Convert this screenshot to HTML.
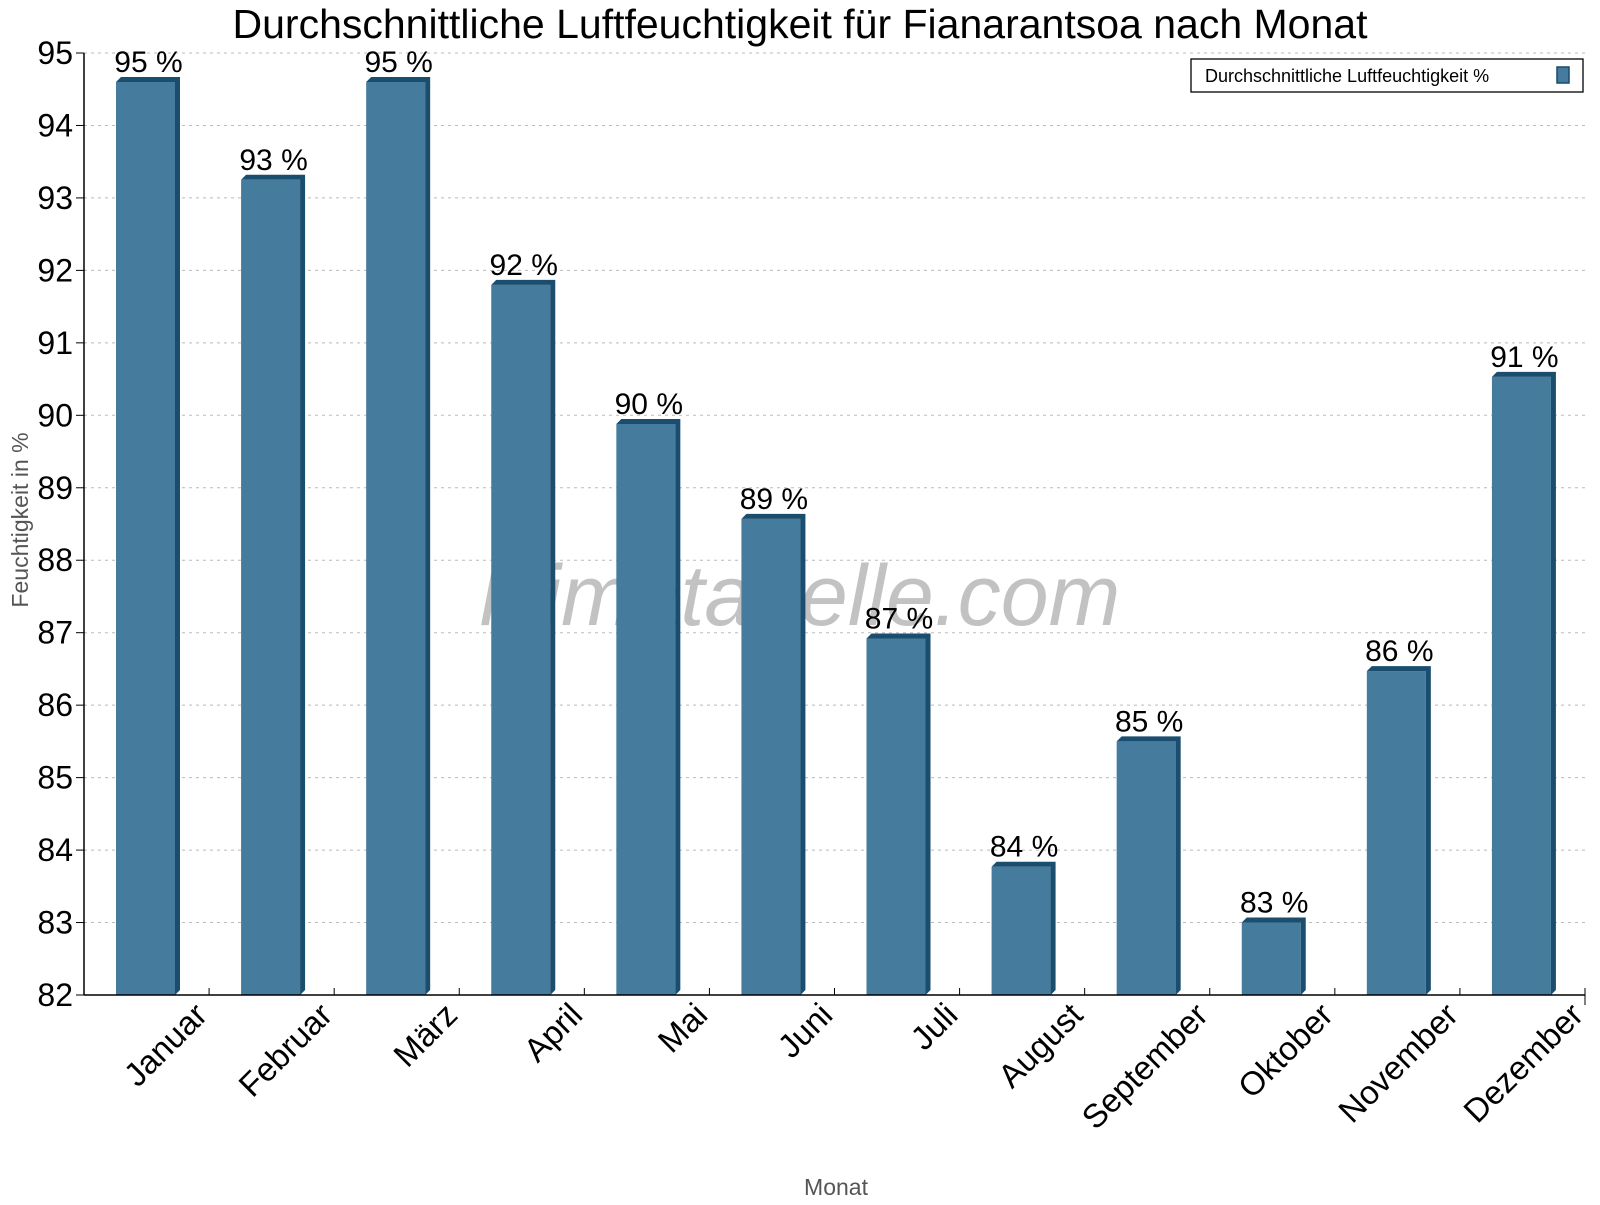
<!DOCTYPE html>
<html><head><meta charset="utf-8"><style>
body{margin:0;background:#fff}
svg text{font-family:"Liberation Sans",sans-serif}
</style></head><body>
<svg id="chart" width="1600" height="1200" xmlns="http://www.w3.org/2000/svg">
<text x="800" y="38" font-size="41" text-anchor="middle">Durchschnittliche Luftfeuchtigkeit für Fianarantsoa nach Monat</text>
<g id="grid"></g>
<text x="800" y="625" font-size="86" font-style="italic" fill="#999" fill-opacity="0.6" text-anchor="middle">klimatabelle.com</text>
<g id="bars"></g>
<g id="axes"></g>
<text transform="translate(28,520) rotate(-90)" font-size="23" fill="#555" text-anchor="middle">Feuchtigkeit in %</text>
<text x="836" y="1195" font-size="23" fill="#555" text-anchor="middle">Monat</text>
<g>
<rect x="1191" y="59" width="392" height="33" fill="#fff" stroke="#000" stroke-width="1.3"/>
<text x="1205" y="82" font-size="18">Durchschnittliche Luftfeuchtigkeit %</text>
<rect x="1557" y="67" width="12" height="16" fill="#457b9d" stroke="#1a4a6a" stroke-width="1.5"/>
</g>
</svg>
<script>
const months=["Januar","Februar","März","April","Mai","Juni","Juli","August","September","Oktober","November","Dezember"];
const values=[94.6,93.25,94.6,91.8,89.88,88.57,86.92,83.77,85.5,83.0,86.47,90.53];
const labels=["95 %","93 %","95 %","92 %","90 %","89 %","87 %","84 %","85 %","83 %","86 %","91 %"];
const yTicks=[82,83,84,85,86,87,88,89,90,91,92,93,94,95];
const NS="http://www.w3.org/2000/svg";
const x0=84,x1=1585,yTop=53,yBot=995,yMin=82,yMax=95;
const cw=(x1-x0)/months.length;
const y=v=>yBot-(v-yMin)/(yMax-yMin)*(yBot-yTop);
const xc=i=>x0+i*cw;
function mk(tag,attrs,parent){const e=document.createElementNS(NS,tag);for(const k in attrs)e.setAttribute(k,attrs[k]);parent.appendChild(e);return e;}
const grid=document.getElementById('grid'),bars=document.getElementById('bars'),axes=document.getElementById('axes');
yTicks.forEach(t=>{
 if(t>yMin){const l=mk('line',{x1:x0,x2:x1,y1:y(t),y2:y(t),stroke:'#bbb','stroke-dasharray':'3,4'},grid);
 
 }
 const tk=mk('line',{x1:x0-8,x2:x0,y1:y(t),y2:y(t),stroke:'#000'},axes);
 
 
 const tx=mk('text',{x:x0-11,y:y(t)+11,'font-size':32,'text-anchor':'end'},axes);tx.textContent=t;
 
 
});
const bw=59,dep=5;
values.forEach((v,i)=>{
 const bx=xc(i)+32,by=y(v);
 const g=mk('g',{},bars);
 
 
 mk('rect',{x:bx,y:by,width:bw,height:yBot-by,fill:'#457b9d'},g);
 mk('polygon',{points:`${bx},${by} ${bx+dep},${by-dep} ${bx+bw+dep},${by-dep} ${bx+bw+dep},${yBot-dep} ${bx+bw},${yBot} ${bx+bw},${by}`,fill:'#1a4d6e'},g);
 const t=mk('text',{x:bx+bw/2+3,y:by-10,'font-size':30,'text-anchor':'middle'},g);t.textContent=labels[i];
 
 
 const tk=mk('line',{x1:xc(i+1),x2:xc(i+1),y1:yBot-7,y2:yBot,stroke:'#000'},axes);
 
 
 const ml=mk('text',{transform:`translate(${xc(i+1)},${yBot+22}) rotate(-45)`,'font-size':33,'text-anchor':'end'},axes);ml.textContent=months[i];
 
 
});
const ax=mk('line',{x1:x0,x2:x0,y1:yTop,y2:yBot,stroke:'#000','stroke-width':1.5},axes);


const axx=mk('line',{x1:x0,x2:x1,y1:yBot,y2:yBot,stroke:'#000','stroke-width':1.5},axes);


const re=mk('line',{x1:x1,x2:x1,y1:yBot-7,y2:yBot+10,stroke:'#000'},axes);


</script>
</body></html>
